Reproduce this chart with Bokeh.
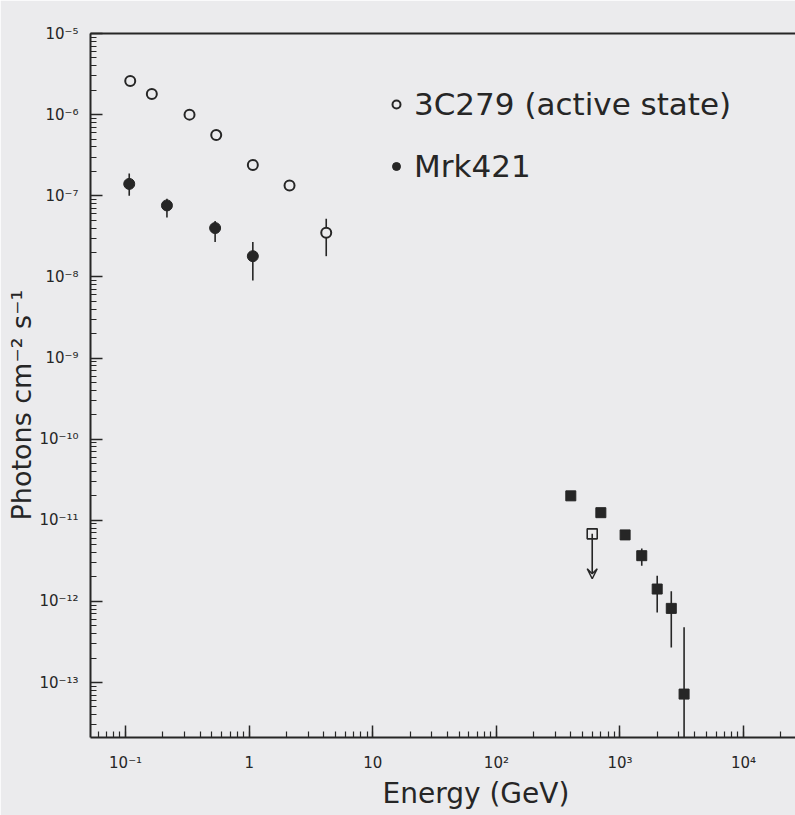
import math
from bokeh.plotting import figure
from bokeh.models import (CustomJSTickFormatter, LogAxis, FixedTicker, Title, Legend, LegendItem,
                          Arrow, VeeHead)
from bokeh.embed import file_html
from bokeh.resources import INLINE

# ---- data -------------------------------------------------------------
# 3C279 (active state), EGRET band
c279_energy = [0.109, 0.163, 0.329, 0.541, 1.07, 2.12, 4.2]
c279_flux = [2.6e-6, 1.8e-6, 1.0e-6, 5.6e-7, 2.4e-7, 1.34e-7, 3.5e-8]
c279_hi = [2.8e-6, 1.95e-6, 1.08e-6, 6.1e-7, 2.7e-7, 1.5e-7, 5.2e-8]
c279_lo = [2.4e-6, 1.65e-6, 0.92e-6, 5.1e-7, 2.1e-7, 1.18e-7, 1.8e-8]

# Mrk421, EGRET band
mrk_energy = [0.107, 0.216, 0.53, 1.07]
mrk_flux = [1.4e-7, 7.6e-8, 4.0e-8, 1.8e-8]
mrk_hi = [1.88e-7, 9.2e-8, 4.9e-8, 2.7e-8]
mrk_lo = [1.0e-7, 5.4e-8, 2.7e-8, 9.0e-9]

# Mrk421, TeV band
tev_energy = [400, 700, 1100, 1500, 2000, 2600, 3300]
tev_flux = [2.0e-11, 1.24e-11, 6.6e-12, 3.66e-12, 1.42e-12, 8.2e-13, 7.2e-14]
tev_hi = [2.2e-11, 1.36e-11, 7.3e-12, 4.5e-12, 2.07e-12, 1.33e-12, 4.8e-13]
tev_lo = [1.8e-11, 1.12e-11, 5.9e-12, 2.75e-12, 7.3e-13, 2.7e-13, 1.0e-15]

# TeV upper limit
ul_energy = [596]
ul_flux = [6.8e-12]
ul_arrow_to = [1.9e-12]

# axis extents
x_limits = (0.052, 2.63e4)
y_limits = (2.1e-14, 1.0001e-5)

# ---- style -------------------------------------------------------------
BG = "#ebebed"
INK = "#262626"
FONT = "DejaVu Sans"
W, H = 795, 815
LEFT, TOP, BOTTOM = 90, 33, 78

p = figure(width=W, height=H, x_axis_type="log", y_axis_type="log",
           x_range=x_limits, y_range=y_limits,
           output_backend="svg", toolbar_location=None,
           min_border_left=LEFT, min_border_right=0,
           min_border_top=TOP, min_border_bottom=BOTTOM,
           background_fill_color=BG, border_fill_color=BG,
           outline_line_color=None)
p.grid.visible = False

fmt = CustomJSTickFormatter(code="""
const e = Math.round(Math.log10(tick));
if (e === 0) return "1";
if (e === 1) return "10";
const sup = {"-": "\u207b", "0": "\u2070", "1": "\u00b9", "2": "\u00b2", "3": "\u00b3",
             "4": "\u2074", "5": "\u2075", "6": "\u2076", "7": "\u2077", "8": "\u2078", "9": "\u2079"};
return "10" + String(e).split("").map(c => sup[c]).join("");
""")

for ax in (p.below[0], p.left[0]):
    ax.formatter = fmt
    ax.axis_line_width = 2
    ax.axis_line_color = INK
    ax.major_tick_in = 12
    ax.major_tick_out = 0
    ax.minor_tick_in = 6
    ax.minor_tick_out = 0
    ax.major_tick_line_width = 1.5
    ax.minor_tick_line_width = 1.2
    ax.major_tick_line_color = INK
    ax.minor_tick_line_color = INK
    ax.major_label_text_font = FONT
    ax.major_label_text_font_size = "15px"
    ax.major_label_text_color = INK
p.left[0].major_label_standoff = 12
p.below[0].major_label_standoff = 16

# plain line along the top of the frame
top_axis = LogAxis(ticker=FixedTicker(ticks=[]), major_tick_in=0, major_tick_out=0,
                   minor_tick_in=0, minor_tick_out=0,
                   axis_line_width=2, axis_line_color=INK)
p.add_layout(top_axis, "above")

# ---- axis titles -------------------------------------------------------
p.add_layout(Title(text="Energy (GeV)", align="left", offset=292, standoff=0,
                   text_font=FONT, text_font_size="28px", text_font_style="normal",
                   text_color=INK), "below")
p.add_layout(Title(text="Photons cm\u207b\u00b2 s\u207b\u00b9", align="left", offset=217,
                   standoff=0, text_font=FONT, text_font_size="27px",
                   text_font_style="normal", text_color=INK), "left")

# ---- error bars --------------------------------------------------------
bar_kw = dict(line_color=INK, line_width=1.6)
p.segment(x0=c279_energy, y0=c279_lo, x1=c279_energy, y1=c279_hi, **bar_kw)
p.segment(x0=mrk_energy, y0=mrk_lo, x1=mrk_energy, y1=mrk_hi, **bar_kw)
p.segment(x0=tev_energy, y0=tev_lo, x1=tev_energy, y1=tev_hi, **bar_kw)

# ---- markers -----------------------------------------------------------
r_c279 = p.scatter(c279_energy, c279_flux, marker="circle", size=10,
                   fill_color=BG, line_color=INK, line_width=2)
r_mrk = p.scatter(mrk_energy, mrk_flux, marker="circle", size=11,
                  fill_color=INK, line_color=INK)
p.scatter(tev_energy, tev_flux, marker="square", size=10,
          fill_color=INK, line_color=INK)

# upper limit: open square with a downward arrow
p.add_layout(Arrow(end=VeeHead(size=10, line_color=INK, line_width=1.5, fill_color=None),
                   x_start=ul_energy[0], y_start=ul_flux[0],
                   x_end=ul_energy[0], y_end=ul_arrow_to[0],
                   line_color=INK, line_width=1.6))
p.scatter(ul_energy, ul_flux, marker="square", size=10,
          fill_color=BG, line_color=INK, line_width=1.6)

# ---- legend ------------------------------------------------------------
legend = Legend(items=[LegendItem(label="3C279 (active state)", renderers=[r_c279]),
                       LegendItem(label="Mrk421", renderers=[r_mrk])],
                location=(296, 553), padding=0, margin=0, spacing=26,
                glyph_width=20, glyph_height=20, label_standoff=8,
                label_text_font=FONT, label_text_font_size="31px",
                label_text_color=INK, background_fill_alpha=0,
                border_line_color=None)
p.add_layout(legend)

open("out.html", "w").write(file_html(p, INLINE))
